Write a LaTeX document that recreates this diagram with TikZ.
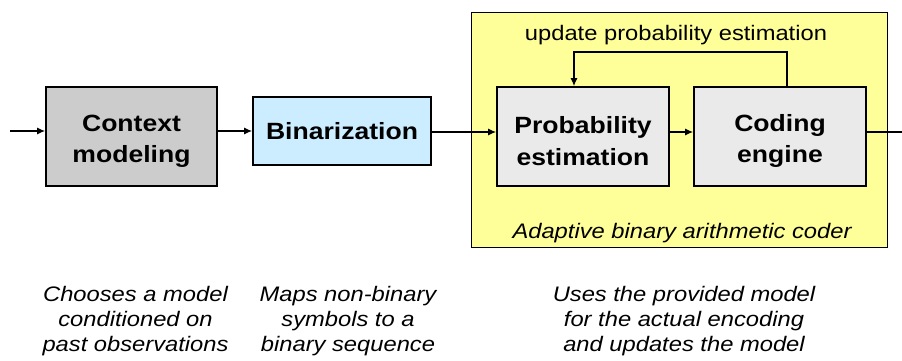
\documentclass[tikz,border=0pt]{standalone}
\usepackage{fontspec}
\setmainfont{Liberation Sans}[FakeStretch=1.13]
\usetikzlibrary{arrows.meta,calc}
\definecolor{ctxgray}{HTML}{CCCCCC}
\definecolor{binblue}{HTML}{CCECFF}
\definecolor{abyellow}{HTML}{FFFF99}
\definecolor{boxgray}{HTML}{EAEAEA}
\newcommand{\lowstrut}{\rule{0pt}{26pt}}
\tikzset{
  blk/.style={draw=black, line width=1.6pt, inner sep=0pt, align=center,
    font=\fontsize{23.5}{31.5}\selectfont\bfseries},
  conn/.style={line width=1.4pt, -{Latex[length=8pt,width=7pt]}},
  plainline/.style={line width=1.4pt},
  note/.style={align=center, inner sep=0pt, font=\fontsize{21}{25}\selectfont\itshape},
  lbl/.style={inner sep=0pt, anchor=base, font=\fontsize{21}{25}\selectfont}
}
\begin{document}
\begin{tikzpicture}[x=1pt,y=-1pt]
\useasboundingbox (0,0) rectangle (902,360);
% yellow container
\node[draw=black, line width=0.8pt, fill=abyellow, minimum width=416pt, minimum height=235pt, inner sep=0pt] (abac) at (679,129.5) {};
% blocks
\node[blk, fill=ctxgray, minimum width=171pt, minimum height=99pt] (ctx) at (131.5,136.5) {\lowstrut Context\\modeling};
\node[blk, fill=binblue, minimum width=178pt, minimum height=68pt] (bin) at (342,131) {Binarization};
\node[blk, fill=boxgray, minimum width=172pt, minimum height=99pt] (prob) at (583,136.5) {\lowstrut Probability\\estimation};
\node[blk, fill=boxgray, minimum width=172pt, minimum height=99pt] (code) at (780,136.5) {\lowstrut Coding\\engine};
% labels
\node[lbl] (upd) at (676,40) {update probability estimation};
\node[lbl, font=\fontsize{21}{25}\selectfont\itshape] (abl) at (682,238) {Adaptive binary arithmetic coder};
% notes
\node[note] (n1) at (135.5,321) {Chooses a model\\conditioned on\\past observations};
\node[note] (n2) at (348,321) {Maps non-binary\\symbols to a\\binary sequence};
\node[note] (n3) at (684,321) {Uses the provided model\\for the actual encoding\\and updates the model};
% connectors
\coordinate (in) at (10,131);
\coordinate (out) at (902,132);
\coordinate (fbR) at (787,52);
\coordinate (fbL) at (574,52);
\draw[conn] (in) -- (ctx.west |- in);
\draw[conn] (ctx.east |- bin.west) -- (bin.west);
\draw[conn] (bin.east |- out) -- (prob.west |- out);
\draw[conn] (prob.east |- out) -- (code.west |- out);
\draw[plainline] (code.east |- out) -- (out);
\draw[conn] (code.north -| fbR) -- (fbR) -- (fbL) -- (prob.north -| fbL);
\end{tikzpicture}
\end{document}
